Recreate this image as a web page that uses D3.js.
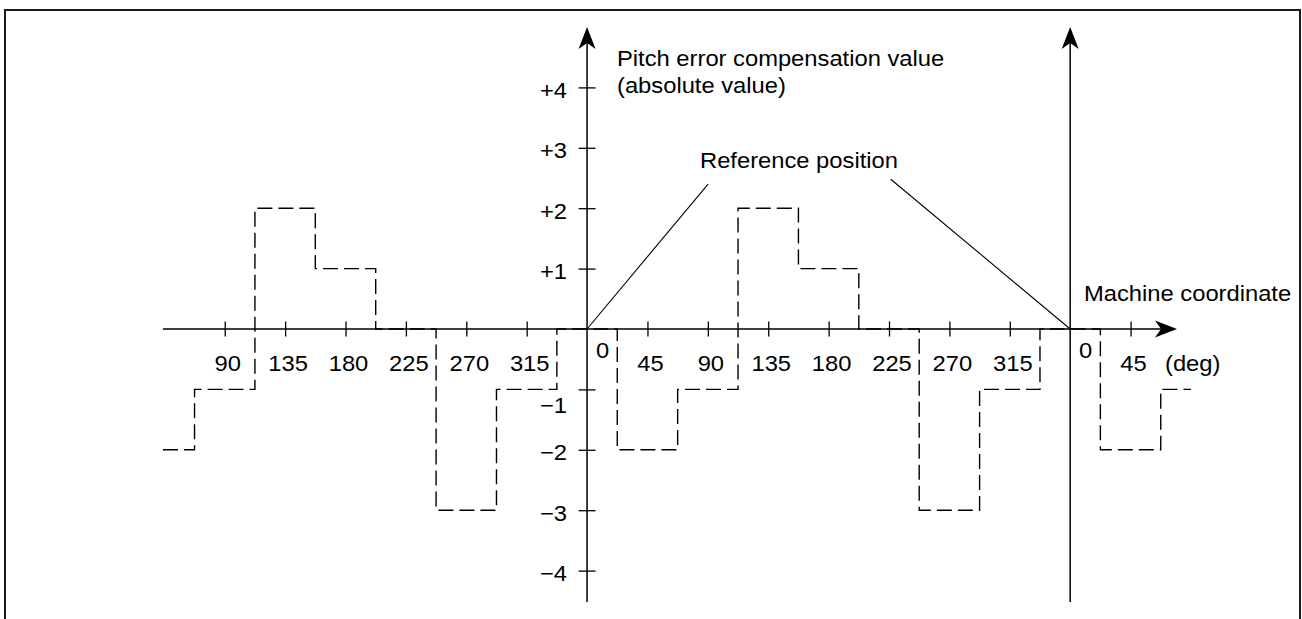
<!DOCTYPE html>
<html>
<head>
<meta charset="utf-8">
<script src="https://cdn.jsdelivr.net/npm/d3@7"></script>
<style>
  html, body { margin: 0; padding: 0; background: #fff; }
  svg { display: block; }
  text { font-family: "Liberation Sans", Arial, Helvetica, sans-serif; font-size: 22px; fill: #000; }
</style>
</head>
<body>
<svg id="chart" width="1302" height="619"></svg>
<script>
// Compensation value (pulses) assigned to each 45° compensation point of one revolution
const pointAngles = [0, 45, 90, 135, 180, 225, 270, 315];
const pitchValues = [0, -2, -1, 2, 1, 0, -3, -1];
// Revolutions shown along the machine coordinate (0 = revolution starting at the first reference position)
const revolutions = [-1, 0, 1];

// Angle ticks along the horizontal axis, in continuous degrees
const angleTicks = [-270, -225, -180, -135, -90, -45, 45, 90, 135, 180, 225, 270, 315, 405];
// Reference positions (0° of each revolution)
const originAngles = [0, 360];
// Vertical ticks
const valueTicks = [4, 3, 2, 1, -1, -2, -3, -4];
const valueLabels = ["+4", "+3", "+2", "+1", "\u22121", "\u22122", "\u22123", "\u22124"];

// Visible angle range and value range
const angleDomain = [-316, 439.6];
const stepEnd = 450;
const valueDomain = [-4.52, 5.0];

// Leader lines of the "Reference position" note (angle, value) endpoints
const leaderEnds = [[90.2, 2.4], [359.9 - 133.6, 2.48]];

const svg = d3.select("#chart");
const x = d3.scaleLinear().domain(angleDomain).range([163, 1177]);
const y = d3.scaleLinear().domain(valueDomain).range([602, 27]);

const SX = 1.08; // horizontal stretch of the lettering

function label(sel, px, py, str, anchor) {
  return sel.append("text")
    .attr("transform", `translate(${px},${py}) scale(${SX},1)`)
    .attr("text-anchor", anchor || "start")
    .text(str);
}

// Frame
svg.append("path")
  .attr("d", "M5,625 V10 H1300 V625")
  .attr("fill", "none")
  .attr("stroke", "#1a1a1a")
  .attr("stroke-width", 2);

// Arrowhead (stealth style) pointing in direction (dx, dy) from tip
function arrow(tipX, tipY, dx, dy) {
  const len = 22, half = 8.5, notch = 16;
  const bx = tipX - dx * len, by = tipY - dy * len;
  const nx = tipX - dx * notch, ny = tipY - dy * notch;
  const px = -dy, py = dx;
  svg.append("path")
    .attr("d", `M${tipX},${tipY} L${bx + px * half},${by + py * half} L${nx},${ny} L${bx - px * half},${by - py * half} Z`)
    .attr("fill", "#000");
}

// Step curve of compensation values
const stepPoints = [];
revolutions.forEach(r => {
  pointAngles.forEach((a, i) => {
    let s = r * 360 + a - 22.5;
    let e = s + 45;
    s = Math.max(s, angleDomain[0]);
    e = Math.min(e, stepEnd);
    if (e > s) stepPoints.push([s, pitchValues[i], e]);
  });
});
const linePts = stepPoints.map(p => [p[0], p[1]]);
const last = stepPoints[stepPoints.length - 1];
linePts.push([last[2], last[1]]);

svg.append("path")
  .datum(linePts)
  .attr("fill", "none")
  .attr("stroke", "#000")
  .attr("stroke-width", 1.4)
  .attr("stroke-dasharray", "15,6")
  .attr("d", d3.line().x(d => x(d[0])).y(d => y(d[1])).curve(d3.curveStepAfter));

// Horizontal axis (machine coordinate)
svg.append("line")
  .attr("x1", x(angleDomain[0])).attr("x2", x(angleDomain[1]) - 10)
  .attr("y1", y(0)).attr("y2", y(0))
  .attr("stroke", "#000").attr("stroke-width", 1.5);
arrow(x(angleDomain[1]), y(0), 1, 0);

const xAxis = d3.axisBottom(x)
  .tickValues(angleTicks)
  .tickSize(0)
  .tickFormat(d => ((d % 360) + 360) % 360);
const gx = svg.append("g")
  .attr("transform", `translate(0,${y(0)})`)
  .call(xAxis);
gx.select(".domain").remove();
gx.selectAll(".tick line")
  .attr("y1", -7.5).attr("y2", 7.5)
  .attr("stroke", "#000").attr("stroke-width", 1.3);
gx.selectAll(".tick text")
  .attr("y", null).attr("dy", null)
  .attr("transform", `translate(2.5,42.5) scale(${SX},1)`)
  .attr("font-size", null)
  .attr("font-family", null)
  .style("font-size", "22px")
  .attr("fill", "#000");

// "0" labels beside each reference position
originAngles.forEach(a => label(svg, x(a) + 15.5, y(0) + 29, "0", "middle"));
label(svg, 1165, y(0) + 42.5, "(deg)", "start");

// Vertical axes at each reference position
originAngles.forEach(a => {
  svg.append("line")
    .attr("x1", x(a)).attr("x2", x(a))
    .attr("y1", y(valueDomain[0])).attr("y2", y(valueDomain[1]) + 10)
    .attr("stroke", "#000").attr("stroke-width", 1.5);
  arrow(x(a), y(valueDomain[1]), 0, -1);
});

// Value ticks on the first vertical axis
const yAxis = d3.axisLeft(y)
  .tickValues(valueTicks)
  .tickSize(0)
  .tickFormat((d, i) => valueLabels[i]);
const gy = svg.append("g")
  .attr("transform", `translate(${x(0)},0)`)
  .call(yAxis);
gy.select(".domain").remove();
gy.selectAll(".tick line")
  .attr("x1", -8.5).attr("x2", 8.5)
  .attr("stroke", "#000").attr("stroke-width", 1.3);
gy.selectAll(".tick text")
  .attr("x", null).attr("dy", null)
  .attr("transform", d => `translate(-20,${d === -1 ? 23 : 10}) scale(${SX},1)`)
  .attr("text-anchor", "end")
  .style("font-size", "22px")
  .attr("fill", "#000");

// Axis title
label(svg, 617, 66, "Pitch error compensation value");
label(svg, 617, 93, "(absolute value)");

// Reference position note with leader lines
label(svg, 700, 168, "Reference position");
leaderEnds.forEach((p, i) => {
  svg.append("line")
    .attr("x1", x(originAngles[i])).attr("y1", y(0))
    .attr("x2", x(p[0])).attr("y2", y(p[1]))
    .attr("stroke", "#000").attr("stroke-width", 1.1);
});

// Machine coordinate label
label(svg, 1084, 300.5, "Machine coordinate");
</script>
</body>
</html>
